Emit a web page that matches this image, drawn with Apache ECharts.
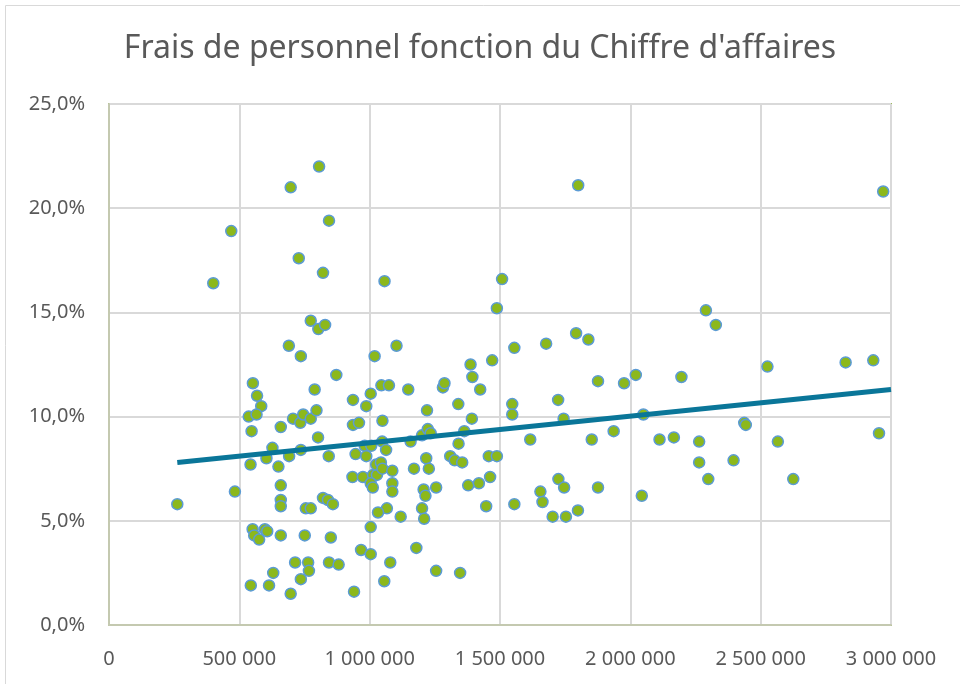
<!DOCTYPE html>
<html>
<head>
<meta charset="utf-8">
<script src="https://cdn.jsdelivr.net/npm/echarts@6/dist/echarts.min.js"></script>
<style>
  html, body { margin: 0; padding: 0; background: #fff; }
  #main { width: 960px; height: 684px; }
</style>
</head>
<body>
<div id="main"></div>
<script>
// Chiffre d'affaires (x) et frais de personnel en % (y)
var chiffreAffaires = [
  262000, 400000, 469000, 483000, 552000, 568000, 584000, 536000, 566000, 547000,
  543000, 604000, 551000, 557000, 576000, 598000, 607000, 544000, 614000, 630000,
  627000, 650000, 659000, 659000, 659000, 659000, 659000, 690000, 697000, 697000,
  691000, 706000, 714000, 728000, 736000, 734000, 745000, 736000, 736000, 751000,
  755000, 764000, 767000, 774000, 774000, 774000, 789000, 796000, 802000, 803000,
  806000, 821000, 821000, 829000, 840000, 843000, 844000, 844000, 851000, 859000,
  872000, 881000, 934000, 936000, 936000, 940000, 946000, 959000, 967000, 974000,
  981000, 987000, 987000, 1004000, 1006000, 1004000, 1004000, 1013000, 1028000, 1004000,
  1012000, 1025000, 1019000, 1043000, 1045000, 1049000, 1048000, 1049000, 1056000, 1057000,
  1063000, 1066000, 1032000, 1074000, 1079000, 1087000, 1087000, 1087000, 1103000, 1119000,
  1148000, 1157000, 1170000, 1179000, 1201000, 1201000, 1207000, 1209000, 1214000, 1217000,
  1220000, 1223000, 1227000, 1234000, 1255000, 1255000, 1281000, 1287000, 1309000, 1326000,
  1340000, 1341000, 1347000, 1355000, 1363000, 1378000, 1387000, 1392000, 1394000, 1419000,
  1424000, 1447000, 1457000, 1462000, 1470000, 1488000, 1488000, 1508000, 1547000, 1547000,
  1555000, 1555000, 1616000, 1655000, 1663000, 1677000, 1702000, 1723000, 1724000, 1744000,
  1746000, 1753000, 1792000, 1799000, 1800000, 1839000, 1852000, 1876000, 1876000, 1936000,
  1976000, 2021000, 2044000, 2050000, 2112000, 2167000, 2196000, 2264000, 2264000, 2290000,
  2299000, 2328000, 2396000, 2437000, 2443000, 2526000, 2566000, 2625000, 2826000, 2932000,
  2954000, 2970000
];
var fraisPersonnel = [
  5.8, 16.4, 18.9, 6.4, 11.6, 11.0, 10.5, 10.0, 10.1, 9.3,
  7.7, 8.0, 4.6, 4.3, 4.1, 4.6, 4.5, 1.9, 1.9, 2.5,
  8.5, 7.6, 9.5, 6.7, 6.0, 5.7, 4.3, 13.4, 21.0, 1.5,
  8.1, 9.9, 3.0, 17.6, 12.9, 9.7, 10.1, 8.4, 2.2, 4.3,
  5.6, 3.0, 2.6, 14.6, 9.9, 5.6, 11.3, 10.3, 9.0, 14.2,
  22.0, 16.9, 6.1, 14.4, 6.0, 8.1, 19.4, 3.0, 4.2, 5.8,
  12.0, 2.9, 7.1, 10.8, 9.6, 1.6, 8.2, 9.7, 3.6, 7.1,
  8.6, 10.5, 8.1, 11.1, 8.6, 4.7, 3.4, 7.2, 7.2, 6.8,
  6.6, 7.7, 12.9, 7.8, 11.5, 9.8, 8.8, 7.5, 2.1, 16.5,
  8.4, 5.6, 5.4, 11.5, 3.0, 7.4, 6.8, 6.4, 13.4, 5.2,
  11.3, 8.8, 7.5, 3.7, 9.1, 5.6, 6.5, 5.1, 6.2, 8.0,
  10.3, 9.4, 7.5, 9.2, 6.6, 2.6, 11.4, 11.6, 8.1, 7.9,
  10.6, 8.7, 2.5, 7.8, 9.3, 6.7, 12.5, 9.9, 11.9, 6.8,
  11.3, 5.7, 8.1, 7.1, 12.7, 15.2, 8.1, 16.6, 10.6, 10.1,
  13.3, 5.8, 8.9, 6.4, 5.9, 13.5, 5.2, 10.8, 7.0, 9.9,
  6.6, 5.2, 14.0, 5.5, 21.1, 13.7, 8.9, 11.7, 6.6, 9.3,
  11.6, 12.0, 6.2, 10.1, 8.9, 9.0, 11.9, 8.8, 7.8, 15.1,
  7.0, 14.4, 7.9, 9.7, 9.6, 12.4, 8.8, 7.0, 12.6, 12.7,
  9.2, 20.8
];
// Courbe de tendance linéaire (extrémités)
var tendanceX = [262000, 3000000];
var tendanceY = [7.8, 11.3];

var points = [];
for (var i = 0; i < chiffreAffaires.length; i++) {
  points.push([chiffreAffaires[i], fraisPersonnel[i]]);
}
var tendance = [];
for (var j = 0; j < tendanceX.length; j++) {
  tendance.push([tendanceX[j], tendanceY[j]]);
}

var myChart = echarts.init(document.getElementById('main'));
var police = "'Noto Sans', 'Open Sans', sans-serif";

option = {
  animation: false,
  title: {
    text: "Frais de personnel fonction du Chiffre d'affaires",
    left: 'center',
    top: 28,
    textStyle: { fontFamily: police, fontSize: 32, fontWeight: 'normal', color: '#595959' }
  },
  graphic: [{
    type: 'rect',
    shape: { x: 5.5, y: 5.5, width: 970, height: 700 },
    style: { fill: 'none', stroke: '#d9d9d9', lineWidth: 1 },
    silent: true
  }],
  grid: {
    left: 109, right: 69, top: 104, bottom: 59,
    show: true, borderColor: '#9bbb59', borderWidth: 2, backgroundColor: '#fff'
  },
  xAxis: {
    type: 'value',
    min: 0, max: 3000000, interval: 500000,
    axisLine: { show: true, onZero: false, lineStyle: { color: '#c4c9b0', width: 2 } },
    axisTick: { show: false },
    splitLine: { show: true, lineStyle: { color: '#d9d9d9', width: 2 } },
    axisLabel: {
      margin: 24, fontFamily: police, fontSize: 20, color: '#595959',
      formatter: function (v) { return String(v).replace(/\B(?=(\d{3})+(?!\d))/g, ' '); }
    }
  },
  yAxis: {
    type: 'value',
    min: 0, max: 25, interval: 5,
    axisLine: { show: true, onZero: false, lineStyle: { color: '#c4c9b0', width: 2 } },
    axisTick: { show: false },
    splitLine: { show: true, lineStyle: { color: '#d9d9d9', width: 2 } },
    axisLabel: {
      margin: 24, fontFamily: police, fontSize: 20, color: '#595959',
      formatter: function (v) { return v.toFixed(1).replace('.', ',') + '%'; }
    }
  },
  series: [
    {
      name: 'Frais de personnel',
      type: 'scatter',
      data: points,
      symbol: 'circle',
      symbolSize: 11,
      itemStyle: { color: '#8cb81c', borderColor: '#5b9bd5', borderWidth: 1.5, opacity: 1 },
      z: 3
    },
    {
      name: 'Tendance',
      type: 'line',
      data: tendance,
      symbol: 'none',
      lineStyle: { color: '#0a7699', width: 5 },
      z: 4
    }
  ]
};

myChart.setOption(option);
</script>
</body>
</html>
